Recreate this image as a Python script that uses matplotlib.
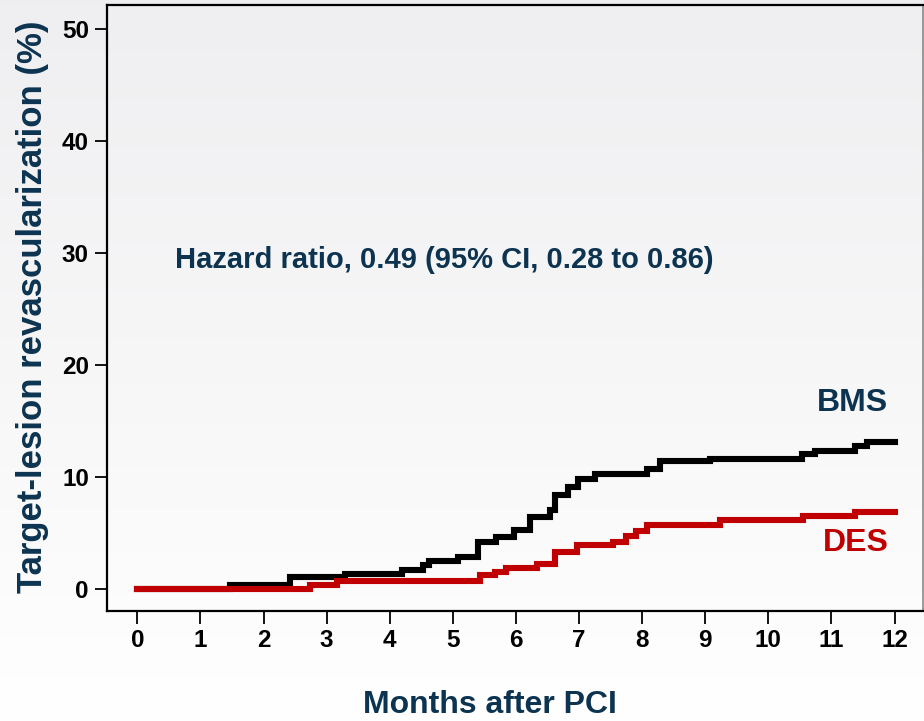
import numpy as np
import matplotlib.pyplot as plt

# Kaplan-Meier style step data (months, %)
bms_t = [0, 1.47, 2.42, 3.29, 4.19, 4.53, 4.62, 5.08, 5.40, 5.69, 5.97, 6.22,
         6.54, 6.62, 6.82, 6.98, 7.25, 8.07, 8.28, 9.07, 10.53, 10.74, 11.37,
         11.56, 12.0]
bms_y = [0, 0.36, 1.0, 1.34, 1.7, 2.1, 2.45, 2.8, 4.2, 4.6, 5.2, 6.4,
         7.05, 8.4, 9.1, 9.8, 10.2, 10.7, 11.4, 11.6, 12.05, 12.3, 12.7,
         13.1, 13.1]

des_t = [0, 2.73, 3.16, 5.43, 5.67, 5.85, 6.33, 6.62, 6.96, 7.54, 7.75, 7.91,
         8.07, 9.23, 10.55, 11.37, 12.0]
des_y = [0, 0.3, 0.68, 1.2, 1.5, 1.8, 2.2, 3.3, 3.9, 4.2, 4.7, 5.1,
         5.65, 6.1, 6.45, 6.85, 6.85]

xticks = list(range(0, 13))
yticks = [0, 10, 20, 30, 40, 50]

navy = '#0c3350'
red = '#c00000'

plt.rcParams['font.family'] = ['Liberation Sans', 'DejaVu Sans']

fig = plt.figure(figsize=(9.24, 7.21), dpi=100)

# background gradient (light grey at top to white at bottom)
bg = fig.add_axes([0, 0, 1, 1], zorder=-10)
grad = np.linspace(0, 1, 256).reshape(-1, 1)
top = np.array([0.937, 0.933, 0.941])
bot = np.array([1.0, 1.0, 1.0])
img = top + (bot - top) * grad[..., None]
bg.imshow(img, aspect='auto', extent=[0, 1, 0, 1], origin='upper')
bg.axis('off')

ax = fig.add_axes([107 / 924, 1 - 611 / 721, 816 / 924, 606 / 721])
ax.patch.set_alpha(0)

ax.step(bms_t, bms_y, where='post', color='black', lw=4.4, zorder=3,
        solid_joinstyle='miter')
ax.step(des_t, des_y, where='post', color=red, lw=4.4, zorder=4,
        solid_joinstyle='miter')

ax.set_xlim(-0.48, 12.45)
ax.set_ylim(-2.0, 52.1)
ax.set_xticks(xticks)
ax.set_yticks(yticks)
ax.tick_params(direction='out', length=9, width=1.3, labelsize=17.5, pad=4)
for lab in ax.get_xticklabels() + ax.get_yticklabels():
    lab.set_fontweight('bold')

for s in ['left', 'bottom', 'top']:
    ax.spines[s].set_linewidth(1.6)
    ax.spines[s].set_color('black')
ax.spines['right'].set_color('#888888')
ax.spines['right'].set_linewidth(1.2)

ax.text(0.6, 29.3, 'Hazard ratio, 0.49 (95% CI, 0.28 to 0.86)', fontsize=21,
        fontweight='bold', color=navy, va='center', ha='left')
ax.text(11.9, 16.6, 'BMS', fontsize=23, fontweight='bold', color=navy,
        ha='right', va='center')
ax.text(11.9, 4.1, 'DES', fontsize=23, fontweight='bold', color=red,
        ha='right', va='center')

fig.text(490 / 924, 1 - 705 / 721, 'Months after PCI', fontsize=23,
         fontweight='bold', color=navy, ha='center', va='center')
fig.text(33 / 924, 1 - 307 / 721, 'Target-lesion revascularization (%)',
         fontsize=25, fontweight='bold', color=navy, ha='center',
         va='center', rotation=90)

fig.savefig('out.png', dpi=100)
